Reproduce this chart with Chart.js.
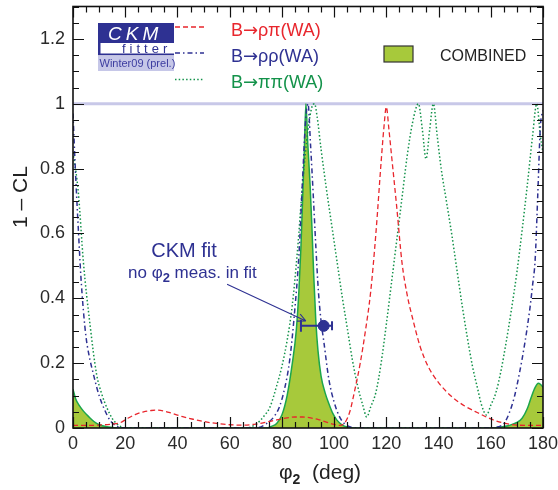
<!DOCTYPE html>
<html>
<head>
<meta charset="utf-8">
<script src="https://cdn.jsdelivr.net/npm/chart.js@4.4.1/dist/chart.umd.min.js"></script>
<style>
  html, body { margin: 0; padding: 0; background: #fff; }
  #wrap { width: 558px; height: 490px; }
</style>
</head>
<body>
<div id="wrap"><canvas id="chart" width="558" height="490"></canvas></div>
<script>
// phi2 (deg) and 1-CL, one pair of arrays per curve
const rhoPiDeg = [0, 5, 10, 15, 18, 21, 24, 27, 30, 32, 35, 38, 42, 46, 50, 55, 60, 65, 70, 74, 78, 82, 85, 88, 91, 94, 97, 100, 102, 104, 106, 108, 110, 112, 114, 116, 118, 119, 120, 121, 122, 124, 126, 128, 130, 133, 136, 140, 145, 150, 155, 160, 165, 170, 175, 180];
const rhoPiCL = [0.008, 0.008, 0.009, 0.012, 0.016, 0.03, 0.042, 0.05, 0.054, 0.055, 0.052, 0.045, 0.035, 0.027, 0.02, 0.014, 0.01, 0.009, 0.012, 0.018, 0.025, 0.031, 0.034, 0.034, 0.031, 0.026, 0.018, 0.011, 0.008, 0.015, 0.05, 0.12, 0.2, 0.3, 0.42, 0.6, 0.82, 0.92, 0.99, 0.92, 0.84, 0.68, 0.51, 0.41, 0.34, 0.25, 0.19, 0.14, 0.097, 0.068, 0.047, 0.028, 0.015, 0.009, 0.008, 0.008];

const rhoRhoDeg = [0, 1, 2, 3, 4, 5, 6, 8, 10, 12, 14, 16, 18, 20, 70, 74, 77, 79, 81, 83, 85, 86.5, 88, 89, 90, 91, 92, 93, 94, 95, 96, 98, 100, 102, 104, 106, 108, 160, 163, 165, 167, 169, 171, 173, 175, 176, 177, 178, 179, 180];
const rhoRhoCL = [0.97, 0.78, 0.62, 0.47, 0.36, 0.28, 0.23, 0.16, 0.1, 0.058, 0.026, 0.009, 0.002, 0, 0, 0.013, 0.035, 0.064, 0.12, 0.21, 0.37, 0.53, 0.78, 0.94, 1.0, 0.87, 0.72, 0.56, 0.42, 0.33, 0.27, 0.15, 0.08, 0.036, 0.013, 0.004, 0, 0, 0.004, 0.013, 0.045, 0.095, 0.17, 0.26, 0.37, 0.44, 0.52, 0.72, 0.93, 0.98];

const piPiDeg = [0, 2, 4, 6.5, 9, 11, 13, 15, 17, 20, 66, 70, 73, 75.5, 78, 80, 82, 84, 86, 88, 90, 91.5, 92.5, 93.5, 95, 97, 99, 101, 103, 105, 107, 109, 111, 112.5, 114, 116, 118, 120, 122, 124, 126, 128, 130, 132.3, 133.8, 135.2, 136.6, 138, 139.5, 141, 143, 145, 147, 149, 151, 153, 155, 156.5, 158.4, 160, 162, 164, 166, 168, 170, 172, 174, 176, 177.6, 179, 180];
const piPiCL = [0.85, 0.73, 0.51, 0.32, 0.167, 0.105, 0.062, 0.03, 0.011, 0, 0, 0.011, 0.035, 0.066, 0.13, 0.19, 0.27, 0.38, 0.55, 0.76, 0.92, 0.99, 1.0, 0.96, 0.86, 0.74, 0.63, 0.52, 0.41, 0.31, 0.21, 0.13, 0.07, 0.034, 0.065, 0.11, 0.2, 0.32, 0.45, 0.58, 0.71, 0.84, 0.94, 1.0, 0.92, 0.83, 0.92, 1.0, 0.9, 0.8, 0.7, 0.6, 0.49, 0.38, 0.28, 0.19, 0.12, 0.07, 0.04, 0.07, 0.11, 0.18, 0.27, 0.37, 0.48, 0.61, 0.75, 0.9, 1.0, 0.9, 0.85];

const combDeg = [0, 1, 2.5, 4, 6, 8, 10, 13, 16, 20, 74, 76, 78, 80, 82, 84, 85.5, 86.5, 87.3, 88, 88.6, 89.2, 89.9, 90.8, 91.5, 92.2, 93, 93.8, 95, 96.5, 98, 99.5, 101, 103, 105, 108, 160, 164, 167, 170, 172, 174, 175.5, 177, 178.2, 179, 180];
const combCL = [0.12, 0.09, 0.068, 0.052, 0.035, 0.02, 0.01, 0.004, 0.001, 0, 0, 0.005, 0.014, 0.04, 0.1, 0.2, 0.3, 0.42, 0.56, 0.72, 0.86, 1.0, 0.88, 0.75, 0.62, 0.47, 0.33, 0.24, 0.16, 0.11, 0.075, 0.045, 0.025, 0.01, 0.003, 0, 0, 0.003, 0.008, 0.017, 0.03, 0.06, 0.095, 0.125, 0.138, 0.135, 0.126];

// CKM fit without phi2 measurements
const fitPhi2 = [96];
const fitCL = [0.315];
const fitLow = [87.3];
const fitHigh = [99.2];

// reference line at 1-CL = 1
const refDeg = [0, 180];
const refCL = [1, 1];

const yTickValues = [0, 0.2, 0.4, 0.6, 0.8, 1, 1.2];

const pts = (xs, ys) => xs.map((x, i) => ({ x: x, y: ys[i] }));

const FONT = '"Liberation Sans", Arial, Helvetica, sans-serif';
const BLUE = '#2e3192';
const RED = '#e8262d';
const GREEN = '#13924a';

Chart.defaults.font.family = FONT;

// frame + inward ticks on the four sides (ROOT style)
const frameTicks = {
    id: 'frameTicks',
    afterDatasetsDraw(chart) {
        const { ctx, chartArea: a, scales: { x, y } } = chart;
        ctx.save();
        ctx.strokeStyle = '#111';
        ctx.lineWidth = 1.2;
        ctx.beginPath();
        for (let i = 0; i <= 36; i++) {
            const px = Math.round(x.getPixelForValue(i * 5)) + 0.5;
            const len = i % 4 === 0 ? 11 : 6;
            ctx.moveTo(px, a.bottom); ctx.lineTo(px, a.bottom - len);
            ctx.moveTo(px, a.top); ctx.lineTo(px, a.top + len);
        }
        for (let i = 0; i <= 26; i++) {
            const py = Math.round(y.getPixelForValue(i * 0.05)) + 0.5;
            const len = i % 4 === 0 ? 11 : 6;
            ctx.moveTo(a.left, py); ctx.lineTo(a.left + len, py);
            ctx.moveTo(a.right, py); ctx.lineTo(a.right - len, py);
        }
        ctx.stroke();
        ctx.lineWidth = 1.6;
        ctx.strokeRect(a.left, a.top, a.width, a.height);
        ctx.restore();
    }
};

// horizontal error bar of the CKM fit, plus the arrow from the label
const fitErr = {
    id: 'fitErr',
    afterDatasetsDraw(chart) {
        const { ctx, scales: { x, y } } = chart;
        ctx.save();
        ctx.strokeStyle = BLUE;
        ctx.lineWidth = 2;
        const py = y.getPixelForValue(fitCL[0]);
        const x0 = x.getPixelForValue(fitLow[0]);
        const x1 = x.getPixelForValue(fitHigh[0]);
        ctx.beginPath();
        ctx.moveTo(x0, py); ctx.lineTo(x1, py);
        ctx.moveTo(x0, py - 6); ctx.lineTo(x0, py + 6);
        ctx.moveTo(x1, py - 4.5); ctx.lineTo(x1, py + 4.5);
        ctx.stroke();

        // arrow
        const ax0 = x.getPixelForValue(59), ay0 = y.getPixelForValue(0.443);
        const ax1 = x.getPixelForValue(89.2), ay1 = y.getPixelForValue(0.33);
        ctx.lineWidth = 1.1;
        ctx.beginPath();
        ctx.moveTo(ax0, ay0); ctx.lineTo(ax1, ay1);
        const ang = Math.atan2(ay1 - ay0, ax1 - ax0);
        ctx.moveTo(ax1, ay1);
        ctx.lineTo(ax1 - 9 * Math.cos(ang - 0.45), ay1 - 9 * Math.sin(ang - 0.45));
        ctx.moveTo(ax1, ay1);
        ctx.lineTo(ax1 - 9 * Math.cos(ang + 0.45), ay1 - 9 * Math.sin(ang + 0.45));
        ctx.stroke();

        // label
        ctx.fillStyle = BLUE;
        ctx.textBaseline = 'alphabetic';
        ctx.textAlign = 'center';
        ctx.font = '20px ' + FONT;
        ctx.fillText('CKM fit', 184, 257);
        ctx.textAlign = 'left';
        let tx = 128;
        ctx.font = '17px ' + FONT;
        ctx.fillText('no \u03c6', tx, 278);
        tx += ctx.measureText('no \u03c6').width;
        ctx.font = 'bold 13px ' + FONT;
        ctx.fillText('2', tx, 282);
        tx += ctx.measureText('2').width;
        ctx.font = '17px ' + FONT;
        ctx.fillText(' meas. in fit', tx, 278);
        ctx.restore();
    }
};

// text in pieces: [string, font, dy]
function drawParts(ctx, parts, x, y) {
    let tx = x;
    parts.forEach(p => {
        ctx.font = p[1];
        ctx.fillText(p[0], tx, y + (p[2] || 0));
        tx += ctx.measureText(p[0]).width;
    });
}

// logo, legend and axis titles
const decorations = {
    id: 'decorations',
    afterDraw(chart) {
        const { ctx } = chart;
        ctx.save();
        // CKMfitter logo
        ctx.fillStyle = BLUE;
        ctx.fillRect(98, 23, 76, 20);
        ctx.fillRect(98, 43, 2.5, 12);
        ctx.fillRect(98, 53.5, 76, 1.8);
        ctx.fillStyle = '#c6c7e8';
        ctx.fillRect(98, 56, 76, 15);
        ctx.fillStyle = '#fff';
        ctx.font = 'italic 19px ' + FONT;
        ctx.letterSpacing = '4px';
        ctx.fillText('CKM', 108, 40);
        ctx.fillStyle = BLUE;
        ctx.font = '13px ' + FONT;
        ctx.letterSpacing = '4px';
        ctx.fillText('fitter', 122, 52.5);
        ctx.letterSpacing = '0px';
        ctx.fillStyle = '#3c3ca0';
        ctx.font = '11px ' + FONT;
        ctx.fillText('Winter09 (prel.)', 99.5, 67);

        // legend lines
        const rows = [
            { y: 27, color: RED, dash: [5, 3], name: '\u03c1\u03c0(WA)' },
            { y: 53, color: BLUE, dash: [5, 3, 1.5, 3], name: '\u03c1\u03c1(WA)' },
            { y: 79.5, color: GREEN, dash: [1.5, 2.2], name: '\u03c0\u03c0(WA)' }
        ];
        rows.forEach(r => {
            ctx.strokeStyle = r.color;
            ctx.lineWidth = 1.5;
            ctx.setLineDash(r.dash);
            ctx.beginPath();
            ctx.moveTo(175, r.y); ctx.lineTo(204, r.y);
            ctx.stroke();
            ctx.fillStyle = r.color;
            drawParts(ctx, [
                ['B', '18px ' + FONT],
                ['\u2192', '18px "DejaVu Sans"', 0],
                [r.name, '18px ' + FONT]
            ], 231, r.y + 8.5);
        });
        ctx.setLineDash([]);

        // combined box
        ctx.fillStyle = '#a7c93b';
        ctx.fillRect(384, 46, 29, 16);
        ctx.strokeStyle = '#333';
        ctx.lineWidth = 1.2;
        ctx.strokeRect(384, 46, 29, 16);
        ctx.fillStyle = '#222';
        ctx.font = '16px ' + FONT;
        ctx.fillText('COMBINED', 440, 61);

        // x title
        ctx.fillStyle = '#222';
        const parts = [
            ['\u03c6', '21px ' + FONT, 0],
            ['2', 'bold 14px ' + FONT, 5],
            ['  (deg)', '21px ' + FONT, 0]
        ];
        let w = 0;
        parts.forEach(p => { ctx.font = p[1]; w += ctx.measureText(p[0]).width; });
        drawParts(ctx, parts, 320 - w / 2, 479);

        // y title
        ctx.translate(27, 197);
        ctx.rotate(-Math.PI / 2);
        ctx.textAlign = 'center';
        ctx.font = '21px ' + FONT;
        ctx.fillText('1 \u2013 CL', 0, 0);
        ctx.restore();
    }
};

const lineDefaults = {
    pointRadius: 0,
    fill: false,
    cubicInterpolationMode: 'monotone',
    borderWidth: 1.5
};

new Chart(document.getElementById('chart'), {
    type: 'line',
    data: {
        datasets: [
            {
                label: 'CKM fit',
                data: pts(fitPhi2, fitCL),
                showLine: false,
                pointRadius: 5.5,
                pointBackgroundColor: BLUE,
                pointBorderColor: BLUE
            },
            Object.assign({}, lineDefaults, {
                label: 'B\u2192\u03c1\u03c0(WA)',
                data: pts(rhoPiDeg, rhoPiCL),
                borderColor: RED,
                borderDash: [5, 3],
                borderWidth: 1.3
            }),
            Object.assign({}, lineDefaults, {
                label: 'B\u2192\u03c1\u03c1(WA)',
                data: pts(rhoRhoDeg, rhoRhoCL),
                borderColor: BLUE,
                borderDash: [5, 3, 1.5, 3]
            }),
            Object.assign({}, lineDefaults, {
                label: 'B\u2192\u03c0\u03c0(WA)',
                data: pts(piPiDeg, piPiCL),
                borderColor: GREEN,
                borderDash: [1.5, 2.2]
            }),
            Object.assign({}, lineDefaults, {
                label: 'COMBINED',
                data: pts(combDeg, combCL),
                borderColor: '#1ca64c',
                backgroundColor: '#a7c93b',
                fill: 'origin'
            }),
            {
                label: 'ref',
                data: pts(refDeg, refCL),
                borderColor: '#c8c8e8',
                borderWidth: 3,
                pointRadius: 0,
                tension: 0
            }
        ]
    },
    options: {
        responsive: false,
        animation: false,
        layout: { padding: { top: 5, right: 15, left: 0, bottom: 0 } },
        plugins: {
            legend: { display: false },
            tooltip: { enabled: false }
        },
        scales: {
            x: {
                type: 'linear',
                min: 0,
                max: 180,
                grid: { display: false, drawTicks: false },
                border: { display: false },
                ticks: { stepSize: 20, color: '#2a2a2a', font: { size: 18 }, padding: 5, maxRotation: 0 },
                afterFit(s) { s.height = 62; s.paddingLeft = 0; s.paddingRight = 0; }
            },
            y: {
                type: 'linear',
                min: 0,
                max: 1.3,
                grid: { display: false, drawTicks: false },
                border: { display: false },
                afterBuildTicks(s) { s.ticks = yTickValues.map(v => ({ value: v })); },
                ticks: {
                    color: '#2a2a2a',
                    font: { size: 18 },
                    padding: 8,
                    callback: v => String(Math.round(v * 10) / 10)
                },
                afterFit(s) { s.width = 73; s.paddingTop = 0; s.paddingBottom = 0; }
            }
        }
    },
    plugins: [frameTicks, fitErr, decorations]
});
</script>
</body>
</html>
